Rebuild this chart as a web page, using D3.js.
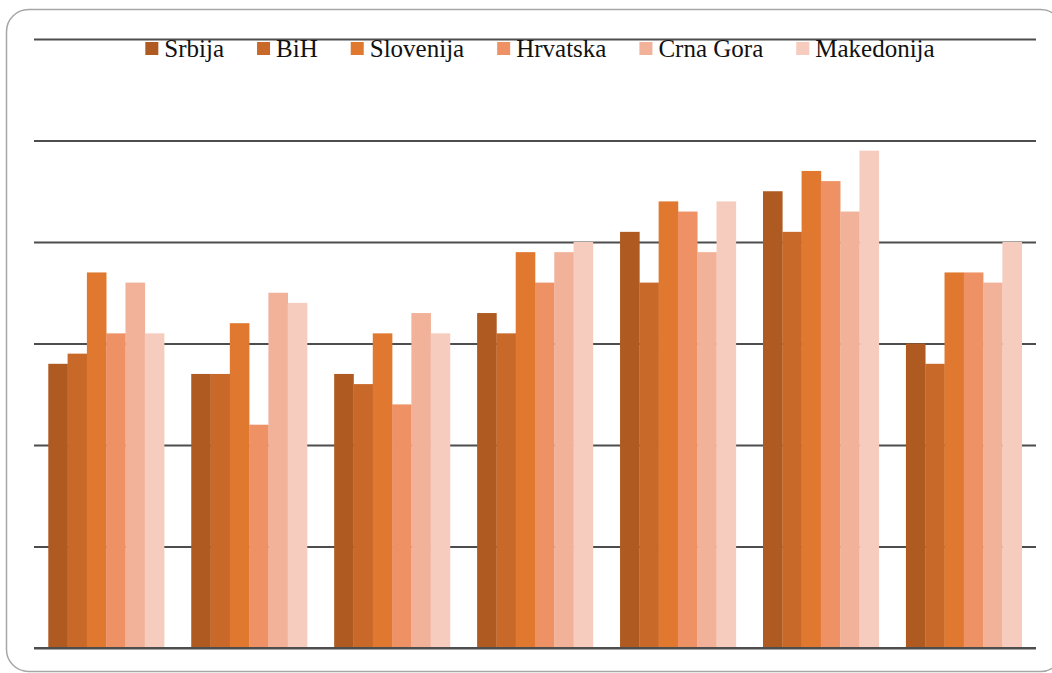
<!DOCTYPE html>
<html>
<head>
<meta charset="utf-8">
<script src="https://cdn.jsdelivr.net/npm/d3@7"></script>
<style>
  html, body { margin: 0; padding: 0; background: #fff; }
  svg { display: block; }
  .legend text { font-family: "Liberation Serif", "Times New Roman", Times, serif; }
</style>
</head>
<body>
<div id="chart"></div>
<script>
// data
const categories = ["1", "2", "3", "4", "5", "6", "7"];
const seriesNames = ["Srbija", "BiH", "Slovenija", "Hrvatska", "Crna Gora", "Makedonija"];
const srbija = [2.8, 2.7, 2.7, 3.3, 4.1, 4.5, 3.0];
const bih = [2.9, 2.7, 2.6, 3.1, 3.6, 4.1, 2.8];
const slovenija = [3.7, 3.2, 3.1, 3.9, 4.4, 4.7, 3.7];
const hrvatska = [3.1, 2.2, 2.4, 3.6, 4.3, 4.6, 3.7];
const crnaGora = [3.6, 3.5, 3.3, 3.9, 3.9, 4.3, 3.6];
const makedonija = [3.1, 3.4, 3.1, 4.0, 4.4, 4.9, 4.0];
const yTicks = [0, 1, 2, 3, 4, 5, 6];

const colors = ["#af5a21", "#c8692a", "#e0782f", "#ee9265", "#f2b29a", "#f6ccbe"];

const W = 1052, H = 673;
const margin = { top: 39, right: 15, bottom: 25, left: 34 };

const svg = d3
  .select("#chart")
  .append("svg")
  .attr("width", W)
  .attr("height", H);

// frame
svg
  .append("rect")
  .attr("x", 6.5)
  .attr("y", 9.5)
  .attr("width", 1056)
  .attr("height", 662)
  .attr("rx", 22)
  .attr("fill", "none")
  .attr("stroke", "#a6a6a6")
  .attr("stroke-width", 1.5);

const table = categories.map((c, i) => ({
  cat: c,
  values: [srbija[i], bih[i], slovenija[i], hrvatska[i], crnaGora[i], makedonija[i]]
}));

const x0 = d3
  .scaleBand()
  .domain(categories)
  .range([margin.left, W - margin.right - 1])
  .paddingInner(0.19)
  .paddingOuter(0.1);

const x1 = d3
  .scaleBand()
  .domain(seriesNames)
  .range([0, x0.bandwidth()]);

const y = d3
  .scaleLinear()
  .domain([0, 6])
  .range([H - margin.bottom, margin.top]);

// gridlines
const grid = svg
  .append("g")
  .attr("transform", `translate(${margin.left},0)`)
  .call(
    d3
      .axisLeft(y)
      .tickValues(yTicks)
      .tickSize(-(W - margin.right - 1 - margin.left))
      .tickFormat("")
  );
grid.select(".domain").remove();
grid
  .selectAll(".tick line")
  .attr("stroke", "#4d4d4d")
  .attr("stroke-width", 1.8);

// bars
svg
  .append("g")
  .selectAll("g")
  .data(table)
  .enter()
  .append("g")
  .attr("transform", d => `translate(${x0(d.cat)},0)`)
  .selectAll("rect")
  .data(d => d.values.map((v, k) => ({ name: seriesNames[k], value: v, k })))
  .enter()
  .append("rect")
  .attr("x", d => x1(d.name))
  .attr("width", x1.bandwidth() + 0.3)
  .attr("y", d => y(d.value))
  .attr("height", d => y(0) - y(d.value))
  .attr("fill", d => colors[d.k]);

// baseline
svg
  .append("line")
  .attr("x1", margin.left)
  .attr("x2", W - margin.right - 1)
  .attr("y1", y(0))
  .attr("y2", y(0))
  .attr("stroke", "#4d4d4d")
  .attr("stroke-width", 1.8);

// legend
const legend = svg.append("g").attr("class", "legend");
const fontSize = 25;
const items = legend
  .selectAll("g")
  .data(seriesNames)
  .enter()
  .append("g");
items
  .append("rect")
  .attr("width", 13)
  .attr("height", 13)
  .attr("y", 42)
  .attr("fill", (d, i) => colors[i]);
items
  .append("text")
  .attr("x", 19)
  .attr("y", 57)
  .attr("font-size", fontSize)
  .attr("fill", "#111")
  .text(d => d);

const gap = 33;
const widths = items.nodes().map(n => 19 + d3.select(n).select("text").node().getComputedTextLength());
const total = d3.sum(widths) + gap * (widths.length - 1);
let cx = 540 - total / 2;
items.attr("transform", (d, i) => {
  const t = `translate(${cx},0)`;
  cx += widths[i] + gap;
  return t;
});
</script>
</body>
</html>
